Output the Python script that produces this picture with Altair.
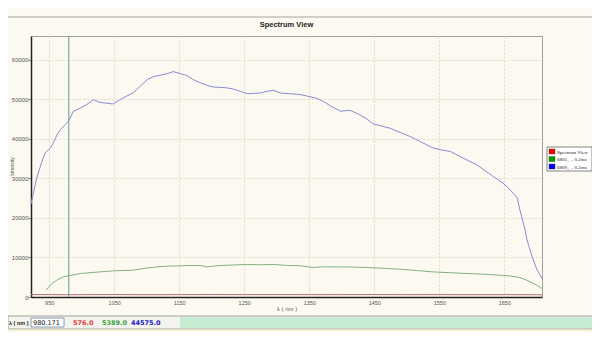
import altair as alt
import pandas as pd

# ---------------- data ----------------
series_names = ["Spectrum View", "6805_ .. 0.2ms", "6809_ .. 0.2ms"]
chart_title = "Spectrum View"

red_nm = [922, 950, 980, 1000, 1050, 1100, 1150, 1200, 1250, 1300, 1350, 1400,
          1450, 1500, 1550, 1600, 1650, 1700, 1708]
red_val = [620, 600, 576, 590, 610, 580, 600, 620, 600, 610, 590, 600,
           610, 590, 600, 580, 590, 570, 560]

green_nm = [945, 954, 963, 972, 980, 998, 1013, 1028, 1048, 1064, 1079, 1101, 1116,
            1132, 1147, 1162, 1182, 1193, 1203, 1213, 1234, 1255, 1275, 1295, 1315,
            1336, 1356, 1367, 1398, 1420, 1439, 1465, 1490, 1515, 1540, 1566, 1593,
            1620, 1644, 1660, 1674, 1685, 1700, 1708]
green_val = [1700, 3400, 4400, 5100, 5389, 5940, 6150, 6350, 6600, 6700, 6780, 7360, 7600,
             7800, 7850, 7970, 7970, 7610, 7800, 7970, 8100, 8220, 8150, 8220, 8000,
             7900, 7460, 7610, 7610, 7550, 7460, 7250, 7030, 6700, 6350, 6150, 5940,
             5750, 5510, 5300, 4920, 4240, 2970, 2130]

blue_nm = [922, 930, 938, 944, 952, 956, 962, 967, 975, 980, 987, 998, 1008, 1013, 1018,
           1028, 1039, 1048, 1059, 1069, 1079, 1090, 1101, 1110, 1121, 1132, 1141, 1151,
           1162, 1171, 1182, 1193, 1202, 1213, 1223, 1233, 1244, 1255, 1265, 1275, 1285,
           1295, 1305, 1320, 1336, 1347, 1360, 1371, 1382, 1398, 1413, 1425, 1439, 1448,
           1462, 1474, 1490, 1505, 1522, 1540, 1553, 1567, 1587, 1608, 1620, 1633, 1648,
           1656, 1664, 1670, 1674, 1678, 1682, 1685, 1693, 1700, 1708]
blue_val = [23500, 29600, 33900, 36500, 37700, 38800, 41000, 42300, 43600, 44575, 46900,
            47800, 48700, 49300, 49900, 49200, 49000, 48800, 49900, 50800, 51600, 53300,
            55000, 55700, 56100, 56500, 57000, 56500, 56000, 55000, 54200, 53500, 53100,
            53000, 52900, 52600, 52000, 51400, 51500, 51600, 52000, 52300, 51600, 51400,
            51200, 50800, 50300, 49500, 48400, 47000, 47200, 46300, 45000, 43800, 43200,
            42700, 41600, 40600, 39200, 37700, 37200, 36800, 35100, 33400, 32000, 30500,
            28800, 27600, 26200, 25000, 22000, 19500, 16900, 14400, 10100, 7000, 4700]

x_ticks = [950, 1000, 1050, 1100, 1150, 1200, 1250, 1300, 1350, 1400, 1450, 1500,
           1550, 1600, 1650, 1700]
y_ticks = [0, 10000, 20000, 30000, 40000, 50000, 60000]

cursor_nm = 980.171
status_values = ["980.171", "576.0", "5389.0", "44575.0"]

# ---------------- build tables ----------------
rows = []
for name, xs_, ys_ in zip(series_names, [red_nm, green_nm, blue_nm], [red_val, green_val, blue_val]):
    for a, b in zip(xs_, ys_):
        rows.append({"nm": a, "intensity": b, "series": name})
df = pd.DataFrame(rows)

bg = "#fcfaf0"
line_colors = ["#b07070", "#80b080", "#8a8ad2"]
legend_colors = ["#ff0000", "#00a000", "#0000ff"]
XT = "λ ( nm )"
YT = "Intensity"

xs = alt.Scale(domain=[922, 1708], nice=False, zero=False)
ys = alt.Scale(domain=[0, 66000], nice=False)

x_axis = alt.Axis(values=x_ticks, format="d", ticks=False, labelPadding=3,
                  labelFontSize=5.5, titlePadding=0)
y_axis = alt.Axis(values=y_ticks, format="d", tickSize=3, labelPadding=0, labelFontSize=6,
                  titleX=-20, titleY=130, titleAlign="center", titleBaseline="middle",
                  titleFontSize=5)

lines = alt.Chart(df).mark_line(strokeWidth=1).encode(
    x=alt.X("nm:Q", scale=xs, axis=x_axis, title=XT),
    y=alt.Y("intensity:Q", scale=ys, axis=y_axis, title=YT),
    stroke=alt.Stroke("series:N", scale=alt.Scale(domain=series_names, range=line_colors), legend=None),
)

cursor = alt.Chart(pd.DataFrame({"nm": [cursor_nm]})).mark_rule(color="#5f9a98", strokeWidth=1).encode(
    x=alt.X("nm:Q", scale=xs, title=XT)
)

one = pd.DataFrame({"a": [0]})

title_mark = alt.Chart(one).mark_text(text=chart_title, align="center", baseline="middle",
                                      fontSize=7.5, fontWeight="bold", font="Liberation Sans",
                                      color="#222222").encode(x=alt.value(255.5), y=alt.value(-11))

frame_top = alt.Chart(one).mark_rule(color="#a8a498", strokeWidth=1).encode(
    x=alt.value(-23), x2=alt.value(561), y=alt.value(-19))

status_bg = alt.Chart(one).mark_rect(color="#f4f4ee", stroke="#a0a0a0", strokeWidth=1).encode(
    x=alt.value(-23), x2=alt.value(561), y=alt.value(280), y2=alt.value(293))
status_green = alt.Chart(one).mark_rect(color="#c8ecd2").encode(
    x=alt.value(149), x2=alt.value(561), y=alt.value(281), y2=alt.value(292))
status_yellow = alt.Chart(one).mark_rule(color="#f0ecb0", strokeWidth=1).encode(
    x=alt.value(-23), x2=alt.value(561), y=alt.value(294))
input_box = alt.Chart(one).mark_rect(color="#ffffff", stroke="#7080a0", strokeWidth=0.8).encode(
    x=alt.value(0), x2=alt.value(33), y=alt.value(282), y2=alt.value(291))


def stext(txt, x, color, weight="bold", size=6.5, font="DejaVu Sans"):
    return alt.Chart(one).mark_text(text=txt, align="left", baseline="middle", fontSize=size,
                                    font=font, fontWeight=weight, color=color).encode(
        x=alt.value(x), y=alt.value(287))


status_texts = [
    stext(XT, -22, "#222222", size=5.5, font="Liberation Sans"),
    stext(status_values[0], 2, "#111111", "normal"),
    stext(status_values[1], 42, "#e04040"),
    stext(status_values[2], 71, "#40a040"),
    stext(status_values[3], 100, "#2020c0"),
]

# hand-drawn legend box (right of the plot)
legend_box = alt.Chart(one).mark_rect(color="#ffffff", stroke="#666666", strokeWidth=0.8).encode(
    x=alt.value(516), x2=alt.value(561), y=alt.value(111), y2=alt.value(135))
legend_parts = []
for i, (name, col) in enumerate(zip(series_names, legend_colors)):
    yc = 115.5 + i * 7.5
    legend_parts.append(
        alt.Chart(one).mark_rect(color=col, stroke="#333333", strokeWidth=0.4).encode(
            x=alt.value(518), x2=alt.value(524), y=alt.value(yc - 2.5), y2=alt.value(yc + 2.5)))
    legend_parts.append(
        alt.Chart(one).mark_text(text=name, align="left", baseline="middle", fontSize=5,
                                 font="Liberation Serif", color="#222222").encode(
            x=alt.value(526), y=alt.value(yc)))

chart = alt.layer(
    frame_top, title_mark, status_bg, status_green, status_yellow, input_box,
    lines, cursor, legend_box, *legend_parts, *status_texts
).properties(
    width=511, height=261,
    autosize=alt.AutoSizeParams(type="none"),
    padding={"left": 23, "top": 28, "right": 50, "bottom": 35},
    background=bg,
).configure_view(
    stroke="#a0a0a0", strokeWidth=1, fill=bg
).configure_axis(
    labelFont="Liberation Sans", labelFontSize=6, labelColor="#555555",
    titleFont="Liberation Sans", titleFontSize=6, titleFontWeight="normal", titleColor="#555555",
    domainColor="#222222", domainWidth=1.5, tickColor="#888888",
    gridColor="#ddd9c8", gridDash=[2, 2], gridWidth=1,
)

chart.save("out.html", embed_options={"renderer": "svg", "actions": False})
